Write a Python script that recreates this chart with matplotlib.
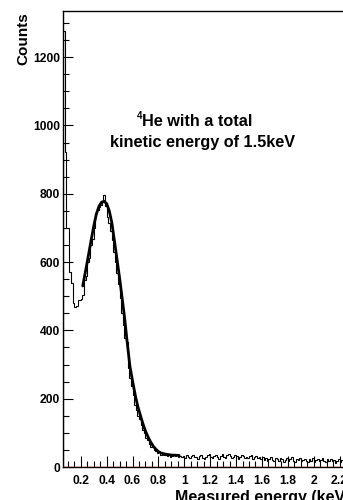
import numpy as np
import matplotlib
matplotlib.use("Agg")
import matplotlib.pyplot as plt
from matplotlib.ticker import MultipleLocator

plt.rcParams['font.family'] = ['Liberation Sans', 'DejaVu Sans']

# ---- data ----
bin_start = 0.0625
bin_width = 0.0125
counts_low = [1275, 922, 699, 699, 571, 538, 480, 469, 472, 489,
              490, 492, 503, 547, 560, 600, 612, 650, 668, 700,
              745, 752, 760, 768, 776, 797, 765, 733, 715, 690,
              665, 630, 600, 568, 535, 495, 450, 415, 378, 365,
              290, 262, 238, 210, 182, 168, 150, 140, 122, 108,
              100, 86, 78, 66, 60, 58, 50, 46, 40, 43,
              36, 38, 34, 36, 32, 35, 30, 33, 36, 31,
              34, 30, 33, 29]
counts_mid = [31, 27, 34, 29, 25, 33, 36, 28, 30, 24,
              32, 35, 27, 22, 30, 34, 38, 29, 26, 31,
              35, 28, 24, 33, 37, 30, 27, 34, 39, 31,
              26, 29, 35, 32, 24, 28, 36, 33, 27, 30,
              25, 31, 34, 22, 28, 33, 26, 30, 24, 29]
counts_high = [21, 26, 18, 24, 29, 20, 17, 25, 22, 19,
               27, 23, 16, 21, 25, 18, 22, 28, 19, 15,
               23, 20, 26, 17, 21, 24, 18, 14, 22, 19,
               25, 16, 20, 23, 17, 21, 26, 18, 15, 22,
               19, 24, 17, 20, 13, 18, 23, 16, 21, 19,
               25, 17, 14, 20, 22, 18, 24, 16, 19]
counts = counts_low + counts_mid + counts_high

fit_x = [0.215, 0.24, 0.26, 0.28, 0.30, 0.32, 0.34, 0.36, 0.38, 0.40,
         0.42, 0.44, 0.46, 0.48, 0.50, 0.52, 0.54, 0.56, 0.58, 0.60,
         0.62, 0.64, 0.66, 0.68, 0.70, 0.72, 0.74, 0.76, 0.78, 0.80,
         0.82, 0.85, 0.90, 0.96]
fit_y = [530, 580, 622, 664, 705, 740, 763, 775, 778, 771,
         750, 715, 662, 608, 553, 493, 432, 360, 294, 252,
         212, 178, 152, 127, 105, 88, 73, 61, 52, 45,
         41, 38, 35, 34]

x_ticks_major = 0.2
x_ticks_minor = 0.05
y_ticks_major = 200
y_ticks_minor = 50

# ---- figure ----
W, H = 343, 500
fig = plt.figure(figsize=(W / 100, H / 100), dpi=100)
left_px, right_px, top_px, bot_px = 63, 359, 11, 467
ax = fig.add_axes([left_px / W, 1 - bot_px / H,
                   (right_px - left_px) / W, (bot_px - top_px) / H])

edges = bin_start + bin_width * np.arange(len(counts) + 1)
ax.stairs(counts, edges, color='black', linewidth=0.8, baseline=0)
ax.plot(fit_x, fit_y, color='black', linewidth=2.0, solid_capstyle='round')
ax.axhline(0, color='#d9472b', linewidth=1.0, zorder=5)

ax.set_xlim(bin_start, 2.35)
ax.set_ylim(0, 1335)

ax.xaxis.set_major_locator(MultipleLocator(x_ticks_major))
ax.xaxis.set_minor_locator(MultipleLocator(x_ticks_minor))
ax.yaxis.set_major_locator(MultipleLocator(y_ticks_major))
ax.yaxis.set_minor_locator(MultipleLocator(y_ticks_minor))

def fmt(v, pos):
    s = f"{v:.1f}"
    if s.endswith('.0'):
        s = s[:-2]
    return s

ax.xaxis.set_major_formatter(plt.FuncFormatter(fmt))
ax.yaxis.set_major_formatter(plt.FuncFormatter(lambda v, p: f"{int(v)}"))

ax.tick_params(axis='both', which='both', direction='in', colors='black',
               labelsize=8.7, width=0.8)
ax.tick_params(axis='x', which='major', length=8, pad=6)
ax.tick_params(axis='x', which='minor', length=4)
ax.tick_params(axis='y', which='major', length=7, pad=2)
ax.tick_params(axis='y', which='minor', length=4)
for lab in ax.get_xticklabels() + ax.get_yticklabels():
    lab.set_fontweight('bold')

for s in ['left', 'top', 'right', 'bottom']:
    ax.spines[s].set_linewidth(1.0)
    ax.spines[s].set_color('black')

# x-axis title (cut by the figure edge, as in the reference)
fig.text(175 / W, 1 - 490 / H, 'Measured energy (keV)', ha='left', va='top',
         fontsize=11.5, fontweight='bold')

fig.text(23 / W, 1 - 12 / H, 'Counts', rotation=90, ha='center', va='top',
         fontsize=11, fontweight='bold')

fig.text(137 / W, 1 - 116 / H, '4', ha='left', va='center', fontsize=7,
         fontweight='bold')
fig.text(142 / W, 1 - 121 / H, 'He with a total', ha='left', va='center',
         fontsize=11.7, fontweight='bold')
fig.text(110 / W, 1 - 143 / H, 'kinetic energy of 1.5keV', ha='left',
         va='center', fontsize=11.7, fontweight='bold')

fig.savefig('out.png', dpi=100)
